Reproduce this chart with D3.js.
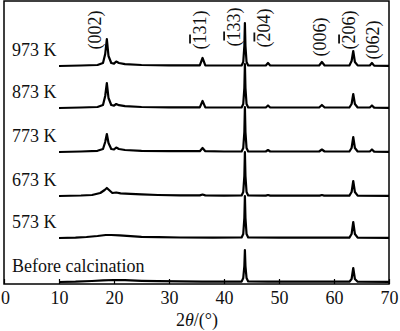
<!DOCTYPE html>
<html><head><meta charset="utf-8">
<script src="https://cdn.jsdelivr.net/npm/d3@7"></script>
<style>
html,body{margin:0;padding:0;background:#fff;}
svg{display:block;}
</style></head>
<body><svg id="c" width="400" height="331" font-family="Liberation Serif, Times New Roman, DejaVu Serif, serif"></svg>
<script>
// ---- data ----
const seriesNames = ["Before calcination", "573 K", "673 K", "773 K", "873 K", "973 K"];
const offsets = [2, 46, 88, 132, 176, 218]; // stacking offset (a.u.)
const xTicks = [0, 10, 20, 30, 40, 50, 60, 70];
const peakLabels = ["(002)", "(131)", "(133)", "(204)", "(006)", "(206)", "(062)"];
const peakBarChar = [-1, 1, 1, 1, -1, 1, -1];  // index of char with overbar
const peakLabelX = [16.4, 35.6, 41.8, 47.3, 57.4, 62.7, 67.1];
const peakLabelY = [30, 30, 27, 28, 37, 30, 40];

const before = [[10,0],[13,0.3],[16,1],[18,1.6],[20,2],[22,1.8],[25,1.2],[28,0.8],[32,0.6],[36,0.4],[40,0.3],[43.2,0.4],[43.5,4],[43.7,16],[43.8,32],[43.9,16],[44.1,4],[44.4,0.5],[48,0.3],[55,0.3],[62.8,0.3],[63.2,3],[63.5,14],[63.8,3],[64.3,0.3],[70,0.2]];
const k573 = [[10,0],[13,0.4],[15,1],[17,2],[18.5,3],[19.5,3],[21,2.6],[23,1.8],[25,1.2],[28,0.8],[32,0.5],[38,0.3],[43.2,0.5],[43.5,4],[43.7,20],[43.8,42],[43.9,20],[44.1,4],[44.4,0.5],[50,0.3],[57,0.3],[62.8,0.4],[63.2,4],[63.5,16],[63.8,4],[64.3,0.4],[70,0.2]];
const k673 = [[10,0],[14,0.5],[16,1],[17.5,3],[18.3,6],[18.7,8],[19.1,6],[19.7,3],[20.4,3.5],[21.2,2.6],[23,2.2],[25,1.6],[28,1],[32,0.6],[35.6,0.6],[36.1,1.5],[36.6,0.6],[40,0.4],[43.2,0.5],[43.5,4],[43.7,20],[43.8,44],[43.9,20],[44.1,4],[44.4,0.5],[47.6,0.4],[48,1],[48.4,0.4],[57.4,0.4],[57.8,1],[58.2,0.4],[62.8,0.4],[63.2,4],[63.5,15],[63.8,4],[64.3,0.4],[70,0.2]];
const k773 = [[10,0],[14,0.5],[17,1.2],[18,3],[18.4,10],[18.7,18],[19,9],[19.5,3],[20,2.5],[20.4,4.5],[20.9,3],[22,2],[25,1.2],[30,0.8],[35.6,0.8],[36.1,4],[36.6,0.8],[40,0.5],[43.2,0.6],[43.5,4],[43.7,20],[43.8,45],[43.9,20],[44.1,4],[44.4,0.6],[47.6,0.5],[48,2],[48.4,0.5],[57.3,0.5],[57.8,2.5],[58.3,0.5],[62.8,0.5],[63.2,4],[63.5,15],[63.8,4],[64.3,0.5],[66.5,0.5],[66.9,2.5],[67.3,0.4],[70,0.2]];
const k873 = [[10,0],[14,0.5],[17,1],[18,3],[18.4,12],[18.7,25],[19,10],[19.5,3],[20,2.4],[20.4,4],[20.9,2.8],[22,1.8],[25,1],[30,0.6],[35.6,0.6],[36.1,7],[36.6,0.6],[40,0.5],[43.2,0.6],[43.5,4],[43.7,20],[43.8,44],[43.9,20],[44.1,4],[44.4,0.6],[47.6,0.5],[48,2.5],[48.4,0.5],[57.3,0.5],[57.8,3],[58.3,0.5],[62.8,0.5],[63.2,4],[63.5,14],[63.8,4],[64.3,0.5],[66.5,0.5],[66.9,2.5],[67.3,0.4],[70,0.2]];
const k973 = [[10,0],[14,0.5],[17,1],[18,3],[18.4,12],[18.7,27],[19,10],[19.5,3],[20,2.4],[20.4,4.5],[20.9,3],[22,1.8],[25,1],[30,0.6],[35.6,0.6],[36.1,8],[36.6,0.6],[40,0.5],[43.2,0.6],[43.5,4],[43.7,20],[43.8,43],[43.9,20],[44.1,4],[44.4,0.6],[47.6,0.5],[48,3],[48.4,0.5],[57.3,0.5],[57.8,4],[58.3,0.5],[62.8,0.6],[63.2,5],[63.5,15],[63.8,4],[64.3,0.6],[66.5,0.5],[66.9,3],[67.3,0.4],[70,0.2]];
const seriesData = [before, k573, k673, k773, k873, k973];

// ---- chart ----
const FONT = "Liberation Serif, Times New Roman, DejaVu Serif, serif";
const svg = d3.select("#c");
const x = d3.scaleLinear().domain([0, 70]).range([4, 389]);
const y = d3.scaleLinear().domain([0, 283]).range([284, 1]);

const line = d3.line().x(d => x(d[0])).y(d => y(d[1]));

seriesData.forEach((s, i) => {
  const pts = s.map(d => [d[0], d[1] + offsets[i]]);
  svg.append("path").attr("d", line(pts))
    .attr("fill", "none").attr("stroke", "#000").attr("stroke-width", 2.2)
    .attr("stroke-linejoin", "round");
  svg.append("text").attr("x", 12).attr("y", y(offsets[i]) - 10)
    .attr("font-family", FONT)
    .attr("font-size", 18).attr("fill", "#111").text(seriesNames[i]);
});

// frame
svg.append("rect").attr("x", x(0)).attr("y", y(283)).attr("width", x(70) - x(0)).attr("height", y(0) - y(283))
  .attr("fill", "none").attr("stroke", "#000").attr("stroke-width", 1.5);

const ax = svg.append("g").attr("transform", `translate(0,${y(0)})`)
  .call(d3.axisBottom(x).tickValues(xTicks).tickSize(-5).tickPadding(7.5).tickFormat(d3.format("d")));
ax.select(".domain").remove();
ax.attr("font-family", FONT);
ax.selectAll(".tick line").attr("stroke", "#000").attr("stroke-width", 1.2);
ax.selectAll(".tick text").attr("font-size", 18).attr("fill", "#111")
  .attr("font-family", FONT);
// keep the first label fully inside the picture
ax.selectAll(".tick text").filter(d => d === 0).attr("dx", 1);

// axis title
const t = svg.append("text").attr("x", 197).attr("y", 326).attr("text-anchor", "middle")
  .attr("font-family", FONT).attr("font-size", 18).attr("fill", "#111");
t.append("tspan").text("2");
t.append("tspan").attr("font-style", "italic").text("θ");
t.append("tspan").text("/(°)");

// peak labels (rotated, reading bottom to top)
peakLabels.forEach((lab, i) => {
  const g = svg.append("g")
    .attr("transform", `translate(${x(peakLabelX[i])},${peakLabelY[i]}) rotate(-90)`);
  const tx = g.append("text")
    .attr("x", 0).attr("y", 0)
    .attr("text-anchor", "middle").attr("dy", "0.35em")
    .attr("font-family", FONT).attr("font-size", 18).attr("fill", "#111");
  [...lab].forEach((ch, j) => {
    const ts = tx.append("tspan").text(ch);
    if (j === peakBarChar[i]) ts.attr("text-decoration", "overline");
  });
});
</script></body></html>
